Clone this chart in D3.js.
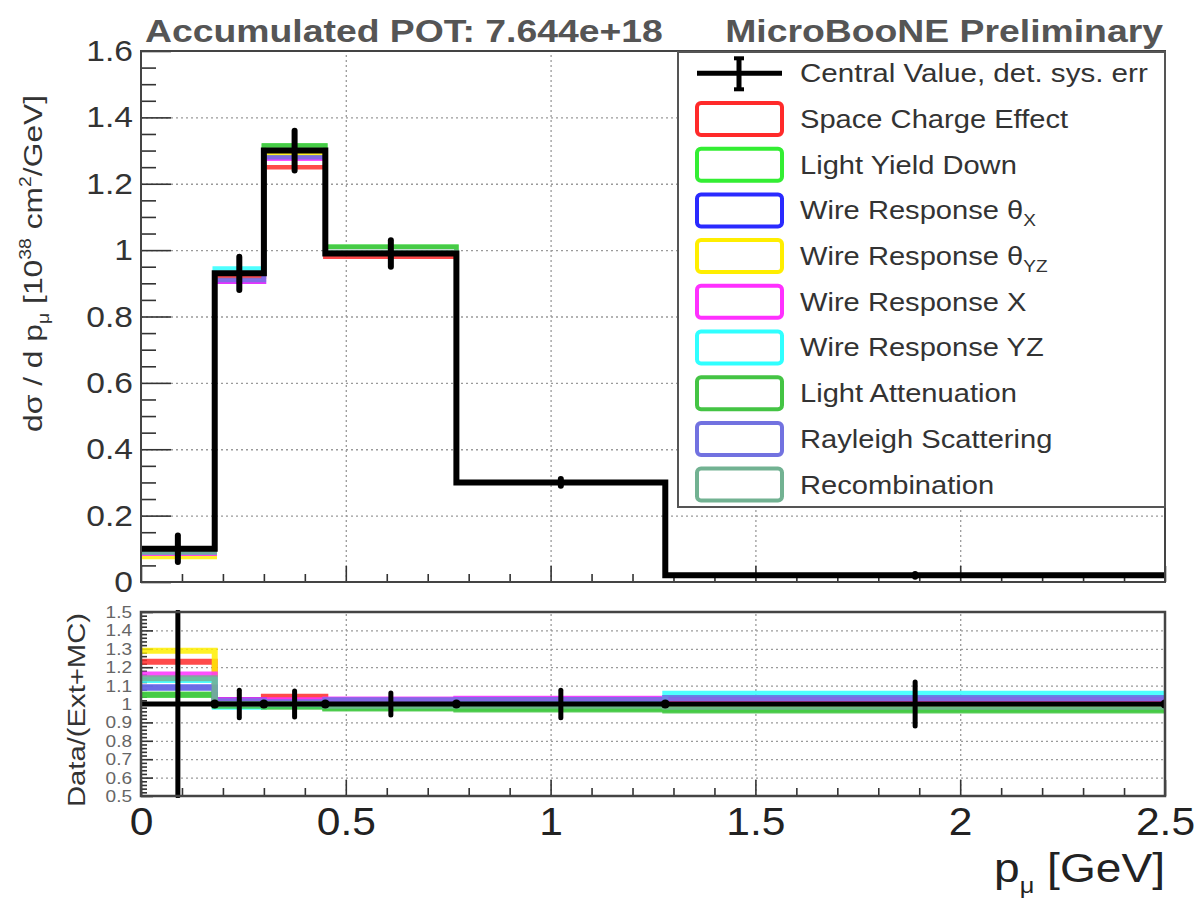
<!DOCTYPE html>
<html><head><meta charset="utf-8">
<script src="https://cdn.jsdelivr.net/npm/d3@7"></script>
<style>
body{margin:0;background:#fff;}
svg{display:block;font-family:"Liberation Sans",Arial,Helvetica,sans-serif;}
</style></head><body>
<svg id="chart" width="1201" height="902"></svg>
<script>
// ---------------- data ----------------
const binEdges = [0, 0.18, 0.30, 0.45, 0.77, 1.28, 2.5];
const cvValues = [0.10, 0.93, 1.30, 0.99, 0.30, 0.02];
const cvErrors = [0.04, 0.05, 0.06, 0.04, 0.01, 0.004];
const ratioCV = [1, 1, 1, 1, 1, 1];
const ratioErrors = [0.6, 0.075, 0.07, 0.06, 0.075, 0.12];

const legendMain = ["Space Charge Effect", "Light Yield Down", "Wire Response θ", "Wire Response θ",
  "Wire Response X", "Wire Response YZ", "Light Attenuation", "Rayleigh Scattering", "Recombination"];
const legendSub = ["", "", "X", "YZ", "", "", "", "", ""];
const variationColors = ["#ff2a2a", "#33ee33", "#2a2aff", "#ffee00", "#ff30ff", "#30ffff", "#44c444", "#7272e0", "#72b292"];

const topSCE      = [0.085, 0.92, 1.25, 0.98, 0.30, 0.02];
const topLYDown   = [0.090, 0.93, 1.315, 1.01, 0.30, 0.02];
const topWRThetaX = [0.090, 0.905, 1.28, 0.99, 0.30, 0.02];
const topWRThetaYZ= [0.075, 0.93, 1.29, 0.99, 0.30, 0.02];
const topWRX      = [0.085, 0.905, 1.275, 0.99, 0.30, 0.02];
const topWRYZ     = [0.090, 0.945, 1.30, 0.99, 0.30, 0.02];
const topLightAtt = [0.095, 0.93, 1.315, 1.01, 0.30, 0.02];
const topRayleigh = [0.090, 0.91, 1.28, 0.99, 0.30, 0.02];
const topRecomb   = [0.090, 0.93, 1.30, 0.995, 0.30, 0.02];

const ratioSCE      = [1.23, 1.02, 1.04, 1.00, 1.00, 1.00];
const ratioLYDown   = [1.05, 1.00, 0.99, 0.98, 0.975, 0.97];
const ratioWRThetaX = [1.09, 1.02, 1.01, 1.02, 1.025, 1.033];
const ratioWRThetaYZ= [1.29, 1.00, 1.00, 1.00, 1.00, 1.00];
const ratioWRX      = [1.16, 1.02, 1.02, 1.025, 1.028, 1.02];
const ratioWRYZ     = [1.13, 0.985, 0.99, 0.99, 1.00, 1.056];
const ratioLightAtt = [1.05, 0.99, 0.985, 0.975, 0.97, 0.965];
const ratioRayleigh = [1.09, 1.015, 1.01, 1.02, 1.022, 1.033];
const ratioRecomb   = [1.14, 1.00, 1.00, 0.99, 0.99, 0.985];

const topSeries = [topSCE, topLYDown, topWRThetaX, topWRThetaYZ, topWRX, topWRYZ, topLightAtt, topRayleigh, topRecomb];
const ratioSeries = [ratioSCE, ratioLYDown, ratioWRThetaX, ratioWRThetaYZ, ratioWRX, ratioWRYZ, ratioLightAtt, ratioRayleigh, ratioRecomb];

const xMajorTicks = [0, 0.5, 1, 1.5, 2, 2.5];
const xGridTicks = [0.5, 1, 1.5, 2];
const yTopTicks = [0, 0.2, 0.4, 0.6, 0.8, 1, 1.2, 1.4, 1.6];
const yTopGrid = [0.2, 0.4, 0.6, 0.8, 1, 1.2, 1.4];
const yRatioTicks = [0.5, 0.6, 0.7, 0.8, 0.9, 1, 1.1, 1.2, 1.3, 1.4, 1.5];
const yRatioGrid = [0.6, 0.7, 0.8, 0.9, 1, 1.1, 1.2, 1.3, 1.4];

// ---------------- layout ----------------
const svg = d3.select("#chart");
const L = 141, R = 1165;
const topT = 51, topB = 582, ratT = 612, ratB = 796;
const x = d3.scaleLinear().domain([0, 2.5]).range([L, R]);
const yTop = d3.scaleLinear().domain([0, 1.6]).range([topB, topT]);
const yRat = d3.scaleLinear().domain([0.5, 1.5]).range([ratB, ratT]);
const SX = 1.12;

function stretch(sel, k) {
  sel.each(function () {
    const t = d3.select(this);
    const x0 = +t.attr("x") || 0;
    t.attr("transform", `translate(${x0 * (1 - k)},0) scale(${k},1)`);
  });
}
function fit(sel, target) {
  sel.each(function () {
    const len = this.getComputedTextLength();
    const t = d3.select(this);
    const x0 = +t.attr("x") || 0;
    const k = target / len;
    t.attr("transform", `translate(${x0 * (1 - k)},0) scale(${k},1)`);
  });
}
const range = (a, b, s) => d3.range(Math.round((b - a) / s) + 1).map(i => +(a + i * s).toFixed(4));

// clip paths
const defs = svg.append("defs");
defs.append("clipPath").attr("id", "clipTop").append("rect").attr("x", L).attr("y", topT - 2).attr("width", R - L).attr("height", topB - topT + 4);
defs.append("clipPath").attr("id", "clipRat").append("rect").attr("x", L).attr("y", ratT - 2).attr("width", R - L).attr("height", ratB - ratT + 4);

// ---------------- grids ----------------
function grid(g) {
  g.select(".domain").remove();
  g.selectAll("line").attr("stroke", "#9a9a9a").attr("stroke-width", 1.3).attr("stroke-dasharray", "2,3");
}
svg.append("g").attr("transform", `translate(0,${topB})`)
  .call(d3.axisBottom(x).tickValues(xGridTicks).tickSize(-(topB - topT)).tickFormat("")).call(grid);
svg.append("g").attr("transform", `translate(${L},0)`)
  .call(d3.axisLeft(yTop).tickValues(yTopGrid).tickSize(-(R - L)).tickFormat("")).call(grid);
svg.append("g").attr("transform", `translate(0,${ratB})`)
  .call(d3.axisBottom(x).tickValues(xGridTicks).tickSize(-(ratB - ratT)).tickFormat("")).call(grid);
svg.append("g").attr("transform", `translate(${L},0)`)
  .call(d3.axisLeft(yRat).tickValues(yRatioGrid).tickSize(-(R - L)).tickFormat("")).call(grid);

// ---------------- axes (ticks + labels) ----------------
function tickStyle(g, col) {
  g.select(".domain").remove();
  g.selectAll("line").attr("stroke", "#333").attr("stroke-width", 1.6);
  g.selectAll("text").attr("fill", col || "#333").attr("font-family", '"Liberation Sans", Arial, sans-serif');
}
// top panel y
const gyTop = svg.append("g").attr("transform", `translate(${L},0)`)
  .call(d3.axisLeft(yTop).tickValues(yTopTicks).tickSize(-30).tickPadding(8).tickFormat(d => String(d)))
  .call(g => tickStyle(g, "#333"));
gyTop.selectAll("text").attr("font-size", 30);
stretch(gyTop.selectAll("text"), SX);
svg.append("g").attr("transform", `translate(${L},0)`)
  .call(d3.axisLeft(yTop).tickValues(range(0, 1.6, 0.05).filter(v => Math.abs(v * 5 - Math.round(v * 5)) > 1e-6)).tickSize(-15).tickFormat(""))
  .call(g => tickStyle(g));
// top panel x ticks
svg.append("g").attr("transform", `translate(0,${topB})`)
  .call(d3.axisBottom(x).tickValues(xMajorTicks).tickSize(-16).tickFormat("")).call(g => tickStyle(g));
svg.append("g").attr("transform", `translate(0,${topB})`)
  .call(d3.axisBottom(x).tickValues(range(0, 2.5, 0.1).filter(v => Math.abs(v * 2 - Math.round(v * 2)) > 1e-6)).tickSize(-8).tickFormat(""))
  .call(g => tickStyle(g));
// ratio y
const gyRat = svg.append("g").attr("transform", `translate(${L},0)`)
  .call(d3.axisLeft(yRat).tickValues(yRatioTicks).tickSize(-12).tickPadding(9).tickFormat(d => String(d)))
  .call(g => tickStyle(g, "#666"));
gyRat.selectAll("text").attr("font-size", 17);
stretch(gyRat.selectAll("text"), SX);
svg.append("g").attr("transform", `translate(${L},0)`)
  .call(d3.axisLeft(yRat).tickValues(range(0.5, 1.5, 0.02).filter(v => Math.abs(v * 10 - Math.round(v * 10)) > 1e-6)).tickSize(-6).tickFormat(""))
  .call(g => tickStyle(g));
// ratio x
const gxRat = svg.append("g").attr("transform", `translate(0,${ratB})`)
  .call(d3.axisBottom(x).tickValues(xMajorTicks).tickSize(-16).tickPadding(12).tickFormat(d => String(d)))
  .call(g => tickStyle(g, "#222"));
gxRat.selectAll("text").attr("font-size", 38);
stretch(gxRat.selectAll("text"), SX);
svg.append("g").attr("transform", `translate(0,${ratB})`)
  .call(d3.axisBottom(x).tickValues(range(0, 2.5, 0.1).filter(v => Math.abs(v * 2 - Math.round(v * 2)) > 1e-6)).tickSize(-8).tickFormat(""))
  .call(g => tickStyle(g));

// ---------------- histograms ----------------
function stepPts(vals) {
  const pts = vals.map((v, i) => [binEdges[i], v]);
  pts.push([binEdges[vals.length], vals[vals.length - 1]]);
  return pts;
}
const lineTop = d3.line().x(d => x(d[0])).y(d => yTop(d[1])).curve(d3.curveStepAfter);
const lineRat = d3.line().x(d => x(d[0])).y(d => yRat(d[1])).curve(d3.curveStepAfter);
const mids = binEdges.slice(0, -1).map((e, i) => (e + binEdges[i + 1]) / 2);

const gTop = svg.append("g").attr("clip-path", "url(#clipTop)");
topSeries.forEach((s, i) => {
  gTop.append("path").attr("d", lineTop(stepPts(s))).attr("fill", "none")
    .attr("stroke", variationColors[i]).attr("stroke-width", 4.5).attr("opacity", 0.85);
});
gTop.append("path").attr("d", lineTop(stepPts(cvValues))).attr("fill", "none")
  .attr("stroke", "#000").attr("stroke-width", 6);
gTop.selectAll("line.err").data(cvValues).join("line").attr("class", "err")
  .attr("x1", (d, i) => x(mids[i])).attr("x2", (d, i) => x(mids[i]))
  .attr("y1", (d, i) => yTop(d - cvErrors[i])).attr("y2", (d, i) => yTop(d + cvErrors[i]))
  .attr("stroke", "#000").attr("stroke-width", 6).attr("stroke-linecap", "round");

const gRat = svg.append("g").attr("clip-path", "url(#clipRat)");
ratioSeries.forEach((s, i) => {
  gRat.append("path").attr("d", lineRat(stepPts(s))).attr("fill", "none")
    .attr("stroke", variationColors[i]).attr("stroke-width", 6).attr("opacity", 0.85);
});
gRat.append("path").attr("d", lineRat(stepPts(ratioCV))).attr("fill", "none")
  .attr("stroke", "#000").attr("stroke-width", 5);
gRat.selectAll("circle.edge").data(binEdges.slice(1)).join("circle").attr("class", "edge")
  .attr("cx", d => x(d)).attr("cy", yRat(1)).attr("r", 4.5).attr("fill", "#000");
gRat.selectAll("line.err").data(ratioCV).join("line").attr("class", "err")
  .attr("x1", (d, i) => x(mids[i])).attr("x2", (d, i) => x(mids[i]))
  .attr("y1", (d, i) => yRat(Math.max(0.5, d - ratioErrors[i]))).attr("y2", (d, i) => yRat(Math.min(1.5, d + ratioErrors[i])))
  .attr("stroke", "#000").attr("stroke-width", 5).attr("stroke-linecap", "round");

// frames
svg.append("rect").attr("x", L).attr("y", topT).attr("width", R - L).attr("height", topB - topT)
  .attr("fill", "none").attr("stroke", "#444").attr("stroke-width", 2);
svg.append("rect").attr("x", L).attr("y", ratT).attr("width", R - L).attr("height", ratB - ratT)
  .attr("fill", "none").attr("stroke", "#444").attr("stroke-width", 2.5);

// ---------------- legend ----------------
const leg = svg.append("g");
leg.append("rect").attr("x", 678).attr("y", 52).attr("width", R - 678).attr("height", 455)
  .attr("fill", "#fff").attr("stroke", "#555").attr("stroke-width", 2);
const rowY = i => 73.3 + i * 45.7;
leg.append("line").attr("x1", 697).attr("x2", 782).attr("y1", rowY(0)).attr("y2", rowY(0)).attr("stroke", "#000").attr("stroke-width", 5);
leg.append("line").attr("x1", 739).attr("x2", 739).attr("y1", rowY(0) - 15).attr("y2", rowY(0) + 16).attr("stroke", "#000").attr("stroke-width", 5);
[rowY(0) - 15, rowY(0) + 16].forEach(yy => leg.append("line").attr("x1", 734).attr("x2", 744).attr("y1", yy).attr("y2", yy).attr("stroke", "#000").attr("stroke-width", 4));
const cvText = leg.append("text").attr("x", 800).attr("y", rowY(0) + 9).attr("font-size", 26).attr("fill", "#333").text("Central Value, det. sys. err");
fit(cvText, 348);
legendMain.forEach((name, i) => {
  const cy = rowY(i + 1);
  leg.append("rect").attr("x", 697).attr("y", cy - 16).attr("width", 85).attr("height", 32).attr("rx", 4)
    .attr("fill", "#fff").attr("stroke", variationColors[i]).attr("stroke-width", 4);
  const t = leg.append("text").attr("x", 800).attr("y", cy + 9).attr("font-size", 26).attr("fill", "#333");
  t.append("tspan").text(name);
  if (legendSub[i]) {
    t.append("tspan").attr("font-size", 17).attr("dy", 7).text(legendSub[i]);
  }
  stretch(t, SX);
});

// ---------------- titles ----------------
const t1 = svg.append("text").attr("x", 145).attr("y", 42).attr("font-size", 32).attr("font-weight", "bold").attr("fill", "#555")
  .text("Accumulated POT: 7.644e+18");
fit(t1, 518);
const t2 = svg.append("text").attr("x", 1163).attr("y", 42).attr("text-anchor", "end").attr("font-size", 32).attr("font-weight", "bold").attr("fill", "#555")
  .text("MicroBooNE Preliminary");
fit(t2, 438);

// x axis title
const xt = svg.append("text").attr("x", 1165).attr("y", 882).attr("text-anchor", "end").attr("font-size", 40).attr("fill", "#222");
xt.append("tspan").text("p");
xt.append("tspan").attr("font-size", 22).attr("dy", 11).text("μ");
xt.append("tspan").attr("dy", -11).text(" [GeV]");
fit(xt, 171);

// y axis title (top)
const ytG = svg.append("g").attr("transform", `translate(42,432) scale(${SX},1) rotate(-90)`);
const yt = ytG.append("text").attr("x", 0).attr("y", 0).attr("font-size", 23).attr("fill", "#333");
yt.append("tspan").text("dσ / d p");
yt.append("tspan").attr("font-size", 14).attr("dy", 6).text("μ");
yt.append("tspan").attr("dy", -6).text("   [10");
yt.append("tspan").attr("font-size", 14).attr("dy", -10).text("38");
yt.append("tspan").attr("dy", 10).text(" cm");
yt.append("tspan").attr("font-size", 14).attr("dy", -10).text("2");
yt.append("tspan").attr("dy", 10).text("/GeV]");
fit(yt, 337);

// y axis title (ratio)
const yrG = svg.append("g").attr("transform", `translate(85,807) scale(${SX},1) rotate(-90)`);
const yr = yrG.append("text").attr("x", 0).attr("y", 0).attr("font-size", 22).attr("fill", "#333").text("Data/(Ext+MC)");
fit(yr, 194);
</script>
</body></html>
